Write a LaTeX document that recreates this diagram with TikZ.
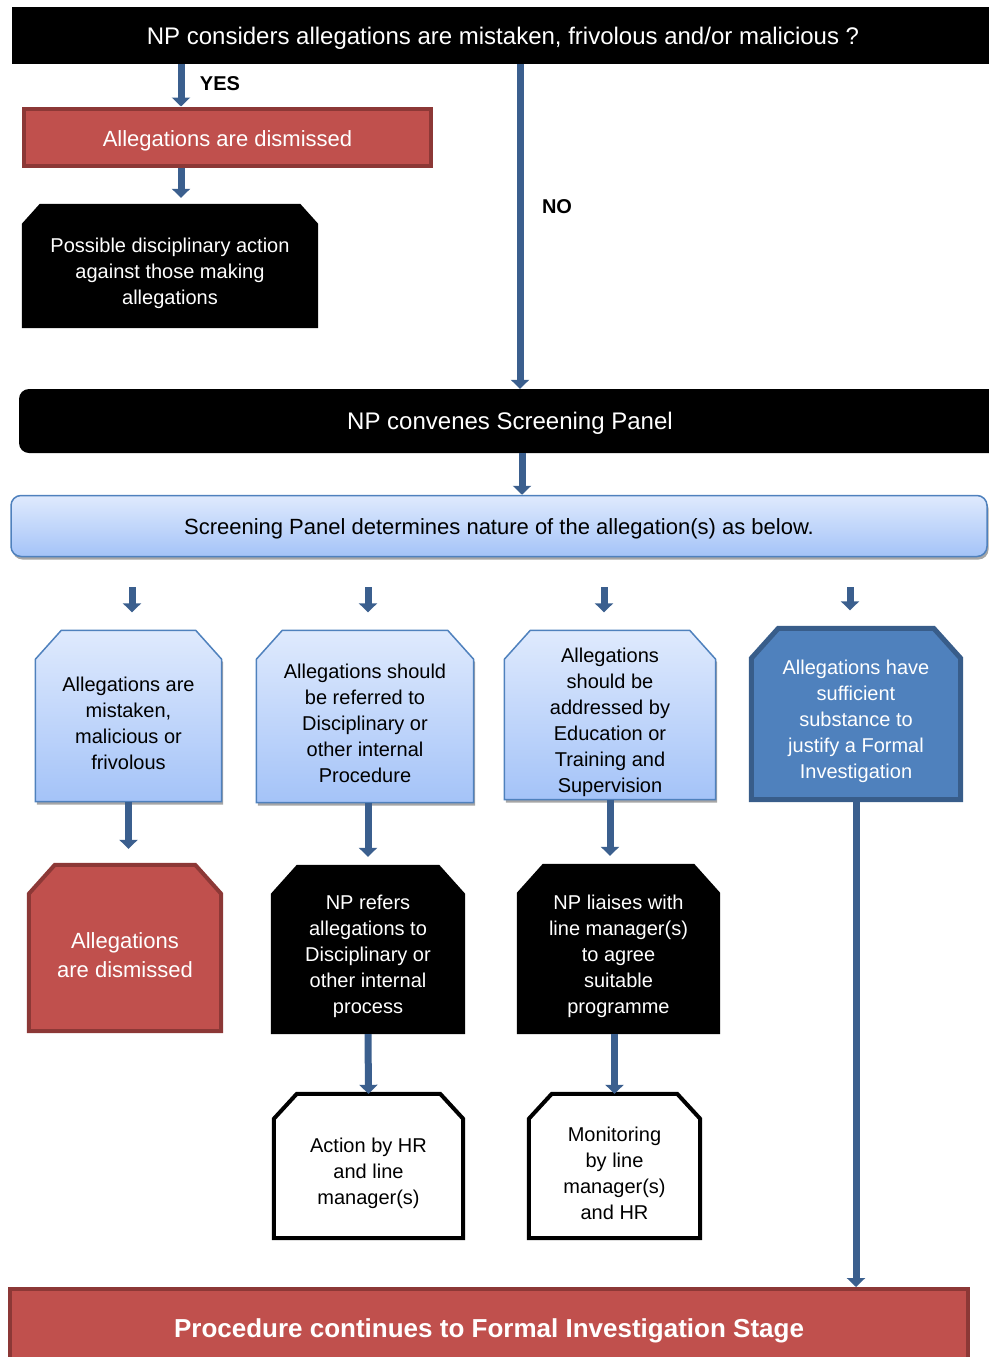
\documentclass[tikz,border=0pt]{standalone}
\usepackage{fontspec}
\setmainfont{Liberation Sans}
\usetikzlibrary{arrows.meta,shadows,backgrounds,positioning}

\definecolor{flowblue}{HTML}{3B5F8E}
\definecolor{dismissred}{HTML}{C0504D}
\definecolor{dismissedge}{HTML}{8C3836}
\definecolor{panelblue}{HTML}{4F81BD}
\definecolor{paneledge}{HTML}{385D8A}
\definecolor{paletop}{HTML}{DFEAFD}
\definecolor{palebot}{HTML}{A4C3F8}

\newcommand{\fs}[2]{\fontsize{#1}{#2}\selectfont}
\newcommand{\boxstrut}{\rule{0pt}{29pt}}
% outline with the two top corners cut: node, style, cut in x, cut in y
\newcommand{\chamfer}[4]{\path[#2] (#1.south west) -- ([yshift=-#4]#1.north west)
  -- ([xshift=#3]#1.north west) -- ([xshift=-#3]#1.north east)
  -- ([yshift=-#4]#1.north east) -- (#1.south east) -- cycle;}

\begin{document}
\begin{tikzpicture}[x=1pt,y=-1pt,
  flow/.style={draw=flowblue, line width=7pt, -{Triangle[width=18pt,length=9pt]}},
  bar/.style={fill=black, text=white, inner sep=0pt, font=\fs{24}{29}},
  lowered/.style={text height=#1, text depth=0pt},
  redbox/.style={fill=dismissred, draw=dismissedge, line width=4pt, text=white, inner sep=0pt},
  palebox/.style={top color=paletop, bottom color=palebot, draw=panelblue, line width=1.5pt,
    drop shadow={shadow xshift=1.5pt, shadow yshift=-3pt, fill=black!35, opacity=1}},
  chbox/.style={rectangle, inner sep=0pt, align=center, font=\fs{20}{26}},
  yesno/.style={font=\bfseries\fs{20}{24}}
]
\useasboundingbox (0,0) rectangle (988,1357);

% top question
\node[bar, lowered=18.5pt, minimum width=982pt, minimum height=57pt] (ask) at (503,35.5)
  {NP considers allegations are mistaken, frivolous and/or malicious ?};
\node[yesno] (yes) at (220,84) {YES};
\node[yesno] (no) at (557,207) {NO};

\node[redbox, lowered=19pt, minimum width=407pt, minimum height=57pt, font=\fs{22}{27}] (dismiss) at (227.5,137)
  {Allegations are dismissed};
\node[chbox, text=white, minimum width=296pt, minimum height=124pt] (discipline) at (170,266)
  {\boxstrut Possible disciplinary action\\against those making\\allegations};

\node[bar, lowered=16.5pt, rounded corners=10pt, minimum width=982pt, minimum height=64pt] (convene) at (510,421)
  {NP convenes Screening Panel};
\node[palebox, lowered=17.5pt, rounded corners=10pt, inner sep=0pt, minimum width=976pt, minimum height=61pt,
  font=\fs{22}{27}] (screen) at (499,526)
  {Screening Panel determines nature of the allegation(s) as below.};

% nature of the allegations
\node[chbox, minimum width=186pt, minimum height=171pt] (mistaken) at (128.5,716)
  {\boxstrut Allegations are\\mistaken,\\malicious or\\frivolous};
\node[chbox, minimum width=217pt, minimum height=172pt] (referred) at (365,716.5)
  {\boxstrut Allegations should\\be referred to\\Disciplinary or\\other internal\\Procedure};
\node[chbox, minimum width=211pt, minimum height=169pt] (training) at (610,715)
  {\boxstrut Allegations\\should be\\addressed by\\Education or\\Training and\\Supervision};
\node[chbox, text=white, minimum width=209pt, minimum height=171pt] (formal) at (856,714)
  {\boxstrut Allegations have\\sufficient\\substance to\\justify a Formal\\Investigation};

% outcomes
\node[chbox, text=white, font=\fs{22}{29}, minimum width=192pt, minimum height=166pt] (dismissed) at (125,948)
  {\rule{0pt}{30pt}Allegations\\are dismissed};
\node[chbox, text=white, minimum width=194pt, minimum height=169pt] (refers) at (368,949.5)
  {\boxstrut NP refers\\allegations to\\Disciplinary or\\other internal\\process};
\node[chbox, text=white, minimum width=203pt, minimum height=170pt] (liaises) at (618.5,949)
  {\boxstrut NP liaises with\\line manager(s)\\to agree\\suitable\\programme};
\node[chbox, minimum width=189pt, minimum height=144pt] (hraction) at (368.5,1166)
  {\boxstrut Action by HR\\and line\\manager(s)};
\node[chbox, minimum width=171pt, minimum height=144pt] (monitor) at (614.5,1166)
  {\boxstrut Monitoring\\by line\\manager(s)\\and HR};

\node[redbox, lowered=23.5pt, font=\bfseries\fs{26}{31}, minimum width=958pt, minimum height=74pt] (final) at (489,1326)
  {Procedure continues to Formal Investigation Stage};

\begin{pgfonlayer}{background}
  \chamfer{discipline}{fill=black}{18pt}{20pt}
  \foreach \n in {mistaken,referred,training} {\chamfer{\n}{palebox}{26pt}{29pt}}
  \chamfer{formal}{fill=panelblue, draw=paneledge, line width=5pt}{27pt}{30pt}
  \chamfer{dismissed}{redbox}{26pt}{29pt}
  \chamfer{refers}{fill=black}{26pt}{29pt}
  \chamfer{liaises}{fill=black}{26pt}{29pt}
  \foreach \n in {hraction,monitor} {\chamfer{\n}{fill=white, draw=black, line width=4pt}{23pt}{25pt}}
\end{pgfonlayer}

% connectors
\draw[flow] ([xshift=-46.5pt]dismiss.north |- ask.south) -- ([xshift=-46.5pt]dismiss.north);
\draw[flow, shorten >=6pt] ([xshift=-46.5pt]dismiss.south) -- ([xshift=-46.5pt]dismiss.south |- discipline.north);
\draw[flow] ([xshift=17pt]ask.south) -- ([xshift=10pt]convene.north);
\draw[flow] ([xshift=12pt]convene.south) -- ([xshift=23pt]screen.north);
\foreach \n/\dx in {mistaken/3.5,referred/3,training/-6,formal/-6}
  \draw[flow, shorten <=30pt, shorten >=18pt] ([xshift=\dx pt]screen.south -| \n.north) -- ([xshift=\dx pt]\n.north);
\draw[flow, shorten >=16pt] (mistaken.south) -- (mistaken.south |- dismissed.north);
\draw[flow, shorten >=8pt] (refers.north |- referred.south) -- (refers.north);
\draw[flow, shorten >=8pt] (training.south) -- (training.south |- liaises.north);
\draw[flow] (refers.south) -- (hraction.north);
\draw[flow] (monitor.north |- liaises.south) -- (monitor.north);
\draw[flow] (formal.south) -- (formal.south |- final.north);
\end{tikzpicture}
\end{document}
